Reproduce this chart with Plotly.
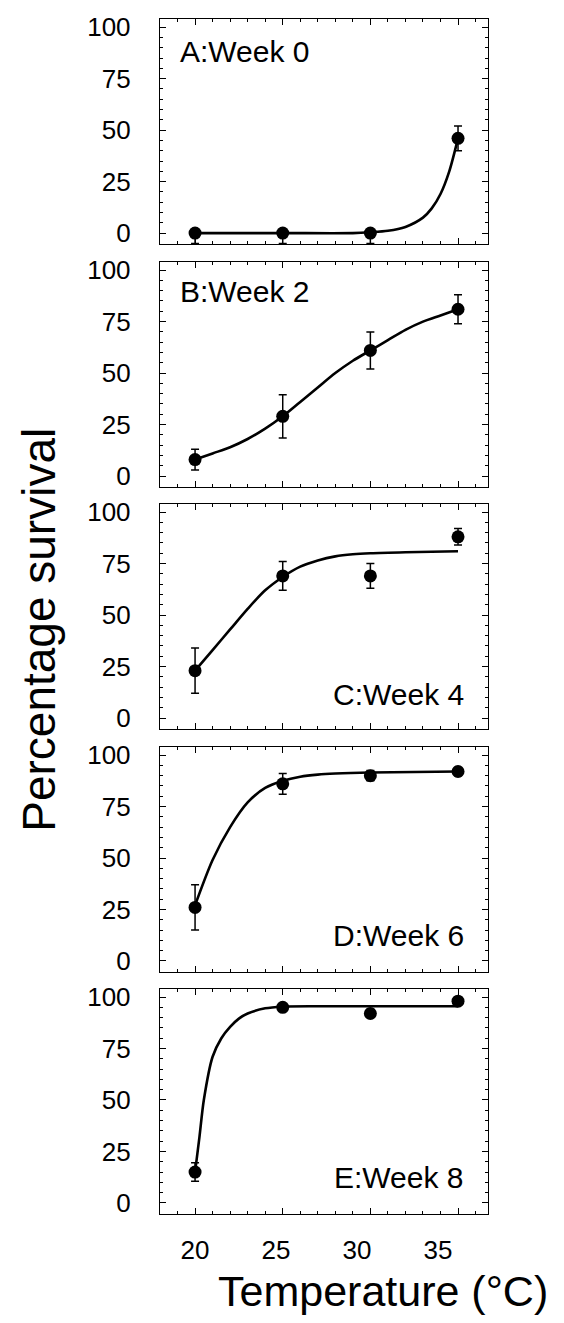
import plotly.graph_objects as go

W, H = 564, 1323

temps = [20, 25, 30, 35]

panel_labels = ["A:Week 0", "B:Week 2", "C:Week 4", "D:Week 6", "E:Week 8"]

# observed survival (%) and error bars
surv_A = [0, 0, 0, 46]
err_up_A = [0, 0, 0, 6]
err_dn_A = [5, 5, 5, 6]

surv_B = [8, 29, 61, 81]
err_up_B = [5, 10.5, 9, 7]
err_dn_B = [5, 10.5, 9, 7]

surv_C = [23, 69, 69, 88]
err_up_C = [11, 7, 6, 4]
err_dn_C = [11, 7, 6, 4]

surv_D = [26, 86, 90, 92]
err_up_D = [11, 5, 2.5, 2]
err_dn_D = [11, 5, 2.5, 2]

surv_E = [15, 95, 92, 98]
err_up_E = [4.5, 1.5, 2, 1]
err_dn_E = [4.5, 1.5, 2, 1]

# fitted curves
curve_A_x = [20, 25, 29, 30, 31, 32, 33, 33.5, 34, 34.5, 35]
curve_A_y = [0, 0, 0, 0.4, 1.1, 3, 7.5, 12, 19, 30, 46]

curve_B_x = [20, 21, 22, 23, 24, 25, 26, 27, 28, 29, 30, 31, 32, 33, 34, 35]
curve_B_y = [8, 11, 14, 18, 23, 29, 36, 43, 50, 56, 61, 66, 71, 75, 78, 81]

curve_C_x = [20, 21, 22, 23, 24, 25, 26, 27, 28, 29, 30, 32, 35]
curve_C_y = [23, 33, 43, 53, 62, 68.5, 73.5, 76.5, 78.5, 79.5, 80, 80.5, 81]

curve_D_x = [20, 21, 22, 23, 24, 25, 26, 27, 28, 30, 35]
curve_D_y = [27, 49, 65, 77, 84, 87.5, 89.5, 90.5, 91, 91.5, 92]

curve_E_x = [20, 20.25, 20.5, 21, 21.5, 22, 22.5, 23, 24, 25, 27, 35]
curve_E_y = [15, 32, 50, 71, 80, 85.5, 89.5, 92, 94.5, 95.3, 95.5, 95.5]

x_ticks = [20, 25, 30, 35]
y_ticks = [0, 25, 50, 75, 100]

surv = [surv_A, surv_B, surv_C, surv_D, surv_E]
eup = [err_up_A, err_up_B, err_up_C, err_up_D, err_up_E]
edn = [err_dn_A, err_dn_B, err_dn_C, err_dn_D, err_dn_E]
cx = [curve_A_x, curve_B_x, curve_C_x, curve_D_x, curve_E_x]
cy = [curve_A_y, curve_B_y, curve_C_y, curve_D_y, curve_E_y]

FONT = "Liberation Sans, Arial, Helvetica, sans-serif"

# panel geometry in pixels (top, bottom)
panels_px = [(12, 239), (257, 484), (501, 728), (746, 973), (990, 1217)]
x_px = (160, 488)
x_dom = [x_px[0] / W, x_px[1] / W]

fig = go.Figure()
layout = {}
for i in range(5):
    n = "" if i == 0 else str(i + 1)
    xa, ya = "x" + n, "y" + n
    fig.add_trace(go.Scatter(
        x=cx[i], y=cy[i], mode="lines",
        line=dict(color="black", width=2.6, shape="spline", smoothing=0.8),
        xaxis=xa, yaxis=ya, showlegend=False, hoverinfo="skip"))
    fig.add_trace(go.Scatter(
        x=temps, y=surv[i], mode="markers",
        marker=dict(color="black", size=13, symbol="circle"),
        error_y=dict(type="data", symmetric=False, array=eup[i], arrayminus=edn[i],
                     color="black", thickness=1.5, width=4),
        xaxis=xa, yaxis=ya, showlegend=False))
    top, bot = panels_px[i]
    layout["xaxis" + n] = dict(
        domain=x_dom, range=[18, 36.71], anchor=ya,
        tickvals=x_ticks, ticks="inside", ticklen=6, tickwidth=1.2, tickcolor="black",
        showticklabels=False,
        minor=dict(dtick=1, tick0=0, ticks="inside", ticklen=3, tickwidth=1, tickcolor="black"),
        showline=True, linecolor="black", linewidth=1.4, mirror="ticks",
        showgrid=False, zeroline=False)
    layout["yaxis" + n] = dict(
        domain=[1 - bot / H, 1 - top / H], range=[-5.3, 104], anchor=xa,
        tickvals=y_ticks, ticks="inside", ticklen=6, tickwidth=1.2, tickcolor="black",
        tickfont=dict(family=FONT, size=26, color="black"),
        ticklabelstandoff=23,
        minor=dict(dtick=5, tick0=0, ticks="inside", ticklen=3, tickwidth=1, tickcolor="black"),
        showline=True, linecolor="black", linewidth=1.4, mirror="ticks",
        showgrid=False, zeroline=False)

# temperature tick labels under the bottom panel (as printed in the figure)
fig.add_trace(go.Scatter(x=[], y=[], xaxis="x6", yaxis="y5", showlegend=False))
layout["xaxis6"] = dict(
    domain=x_dom, range=[17.84, 38.09], anchor="y5", overlaying="x5", side="bottom",
    tickvals=x_ticks, ticks="", showline=False, showgrid=False, zeroline=False,
    tickfont=dict(family=FONT, size=26, color="black"), ticklabelstandoff=18)

annotations = []
label_pos = [(0.055, 0.855, "left"), (0.055, 0.868, "left"), (0.933, 0.155, "right"),
             (0.933, 0.16, "right"), (0.933, 0.163, "right")]
for i, (ax_, ay_, al) in enumerate(label_pos):
    n = "" if i == 0 else str(i + 1)
    annotations.append(dict(
        text=panel_labels[i], xref="x" + n + " domain", yref="y" + n + " domain",
        x=ax_, y=ay_, xanchor=al, yanchor="middle", showarrow=False,
        font=dict(family=FONT, size=30, color="black")))

annotations.append(dict(
    text="Percentage survival", xref="paper", yref="paper",
    x=39 / W, y=1 - 628 / H, textangle=-90, xanchor="center", yanchor="middle",
    showarrow=False, font=dict(family=FONT, size=46, color="black")))
annotations.append(dict(
    text="Temperature (°C)", xref="paper", yref="paper",
    x=383 / W, y=1 - 1295 / H, xanchor="center", yanchor="middle",
    showarrow=False, font=dict(family=FONT, size=43, color="black")))

fig.update_layout(
    width=W, height=H, margin=dict(l=0, r=0, t=0, b=0),
    paper_bgcolor="white", plot_bgcolor="white",
    annotations=annotations, **layout)

fig.write_html("out.html", config={"displayModeBar": False},
               post_script="document.body.style.margin='0px';document.body.style.overflow='hidden';")
